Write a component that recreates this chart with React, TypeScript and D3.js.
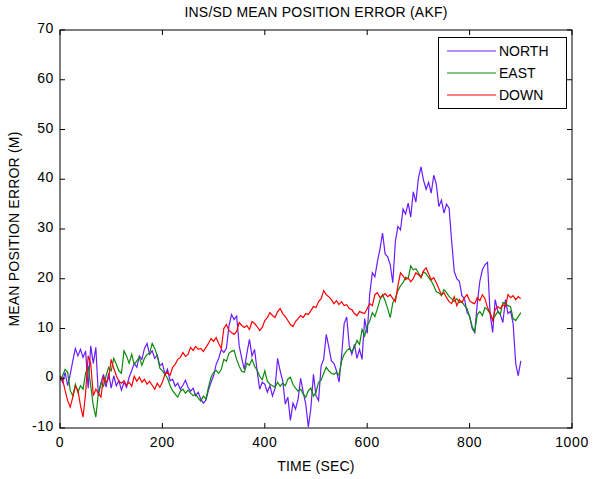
import * as d3 from 'd3';

// sampled every 5 s, 0..900
const TIME = d3.range(0, 901, 5);

const NORTH = [
  0.5, -0.8, 1.2, -1.5, 0.8, 3.5, 6.0, 4.5, 5.8, 4.2,
  5.5, -2.0, 6.5, 3.0, 6.2, -3.5, -1.0, 0.8, -1.8, 1.0,
  -2.0, 0.5, -1.5, -0.5, -2.4, -0.8, -1.8, 0.2, 1.5, 3.0,
  2.2, 4.5, 3.8, 6.0, 7.0, 4.8, 5.5, 4.0, 4.6, 2.5,
  3.0, 0.8, 1.8, -0.5, -0.2, -1.6, -1.0, -2.2, -1.4, -0.4,
  -1.8, -2.6, -2.0, -3.5, -2.8, -4.2, -5.0, -4.4, -2.4, -0.8,
  0.5, 2.8, 4.0, 5.8, 5.2, 6.0, 10.5, 12.8, 11.8, 12.5,
  6.5, 4.0, 1.8, 5.0, 7.8, 4.5, 5.8, 1.5, -2.2, -0.8,
  -1.2, -2.8, -1.5, -3.6, -2.0, 4.0, 1.5, -0.5, -5.2, -3.8,
  -8.5, -5.0, -6.2, -4.2, 0.0, -2.8, -5.2, -9.8, -6.0, 0.8,
  -3.5, -4.5, 2.5, 3.8, 8.8, 6.3, 3.5, 3.0, 1.5, -0.8,
  4.5, 11.0, 12.3, 6.5, 4.8, 6.8, 4.0, 5.8, 3.8, 12.0,
  9.0, 17.0, 21.2, 20.4, 23.5, 26.0, 29.2, 25.0, 24.4, 22.8,
  19.2, 27.5, 30.5, 29.8, 34.0, 33.0, 35.2, 32.4, 37.5, 35.4,
  40.2, 42.5, 39.8, 38.0, 39.4, 37.2, 40.8, 39.0, 34.5, 35.8,
  33.2, 35.0, 34.2, 27.5, 21.5, 20.0, 19.5, 16.6, 16.0, 13.2,
  12.5, 10.0, 9.2, 15.0, 19.5, 21.8, 22.8, 23.3, 13.0, 9.2,
  15.8, 13.5, 12.8, 11.2, 15.8, 13.0, 13.5, 11.0, 3.0, 0.5,
  3.5,
];

const EAST = [
  -0.5, 0.5, 1.8, 1.2, -2.5, -3.5, -1.2, -2.8, -1.5, -2.2,
  1.0, 2.5, -1.5, -5.5, -7.8, -3.0, -1.0, -1.6, 0.5, 2.2,
  1.5, 4.0, 2.8, 1.5, 1.0, 5.5, 4.5, 3.0, 4.8, 2.8,
  3.5, 4.2, 2.6, 4.0, 4.8, 5.0, 7.0, 6.0, 4.5, 2.0,
  1.5, 0.8, 0.0, -1.5, -2.5, -3.2, -3.8, -2.6, -2.2, -3.0,
  -2.4, -3.0, -3.5, -3.2, -4.0, -4.6, -3.6, -4.2, -1.8, 0.2,
  1.2, 1.6, 1.0, 1.8, 3.8, 3.4, 5.0, 5.4, 5.6, 3.8,
  2.4, 1.4, 1.2, 3.0, 2.6, 3.8, 2.4, 1.6, 0.4, -0.3,
  1.5, -0.6, -1.2, -1.5, -1.8, -0.8, -1.6, -1.0, -1.5, -0.2,
  0.2, -1.2, -2.0, -2.6, -2.2, -3.2, -3.8, -2.5, -2.0, -3.6,
  -2.8, -0.8, -0.4, 1.0, 2.2, 1.5, 1.0, 0.8, 1.2, 0.6,
  3.5, 4.8, 5.5, 6.0, 5.4, 6.2, 7.6, 6.8, 9.8, 8.5,
  10.6, 11.5, 13.2, 12.4, 14.0, 15.8, 16.8, 15.6, 14.0, 12.2,
  15.2, 16.0, 17.6, 18.6, 19.2, 20.3, 20.0, 22.6, 21.8, 22.0,
  21.2, 20.2, 21.4, 21.0, 20.2, 19.6, 18.6, 17.4, 17.2, 16.6,
  17.8, 17.2, 16.4, 16.0, 15.4, 16.0, 15.2, 15.4, 14.6, 14.0,
  12.4, 10.4, 9.3, 12.8, 13.4, 12.6, 14.2, 13.8, 13.0, 11.8,
  12.6, 13.4, 12.8, 15.2, 15.0, 14.6, 14.4, 12.0, 11.6, 12.4,
  13.2,
];

const DOWN = [
  0.4, -0.2, -2.5, -4.5, -5.8, -3.8, -1.6, -2.4, -5.5, -7.8,
  -3.0, 4.5, 3.0, -3.5, -2.2, -3.0, -3.8, 0.2, -0.8, 0.0,
  3.8, 2.0, 0.5, -0.6, -1.0, -0.5, -1.4, -0.8, -1.6, 0.4,
  -0.6, 0.2, -0.8, -0.2, -1.2, -0.6, -1.4, -2.2, -1.0, -1.8,
  -0.8, 0.8, 1.2, 0.6, 2.2, 2.8, 3.8, 4.2, 5.2, 4.4,
  4.8, 6.2, 5.6, 6.4, 5.8, 6.0, 5.4, 6.2, 7.0, 8.0,
  7.4, 8.2, 7.0, 6.0, 10.0, 10.8, 9.6, 9.2, 8.8, 9.4,
  11.2, 10.6, 10.2, 10.6, 9.8, 11.4, 11.0, 10.4, 9.6, 10.2,
  11.6, 12.2, 13.2, 12.6, 12.2, 13.4, 14.0, 13.0, 12.4, 11.6,
  10.8, 10.4, 11.4, 12.0, 12.6, 12.2, 13.0, 12.8, 13.6, 14.4,
  14.2, 15.4, 16.0, 17.6, 16.8, 16.4, 15.8, 15.0, 15.6, 14.8,
  15.4, 14.6, 14.8, 14.0, 13.8, 13.0, 12.6, 13.4, 13.2, 13.0,
  14.0, 15.0, 14.6, 16.8, 17.2, 16.2, 16.6, 17.0, 16.4, 16.8,
  16.0, 15.4, 18.6, 21.2, 20.6, 19.8, 20.2, 19.4, 20.0, 21.2,
  20.8, 20.4, 21.6, 22.2, 21.0, 19.8, 20.2, 19.2, 18.0, 16.8,
  17.2, 16.2, 15.4, 15.0, 16.4, 14.6, 15.8, 15.2, 16.2, 16.8,
  15.6, 15.2, 15.0, 16.2, 15.6, 16.8, 16.0, 14.2, 13.2, 11.6,
  13.8, 14.4, 14.0, 14.8, 14.4, 16.8, 16.2, 16.6, 15.8, 16.4,
  16.0,
];

const SERIES = [
  { name: 'NORTH', values: NORTH, color: '#6a1cff' },
  { name: 'EAST', values: EAST, color: '#0a8a0a' },
  { name: 'DOWN', values: DOWN, color: '#ff0000' },
];

const X_TICKS = [0, 200, 400, 600, 800, 1000];
const Y_TICKS = [-10, 0, 10, 20, 30, 40, 50, 60, 70];

const W = 593;
const H = 479;
const margin = { top: 30, right: 21, bottom: 51, left: 60 };
const font = '"Liberation Sans", Arial, sans-serif';

export default function App() {
  const x = d3.scaleLinear().domain([0, 1000]).range([margin.left, W - margin.right]);
  const y = d3.scaleLinear().domain([-10, 70]).range([H - margin.bottom, margin.top]);

  const line = d3.line<number>()
    .x((_, i) => x(TIME[i]))
    .y(d => y(d));

  const x0 = x(0), x1 = x(1000), y0 = y(-10), y1 = y(70);
  const tick = 5;

  return (
    <svg width={W} height={H} style={{ position: 'absolute', left: 0, top: 0, background: '#fff' }}
      fontFamily={font}>
      <g clipPath="url(#plot)">
        <defs>
          <clipPath id="plot">
            <rect x={x0} y={y1} width={x1 - x0} height={y0 - y1} />
          </clipPath>
        </defs>
        {SERIES.map(s => (
          <path key={s.name} d={line(s.values) || ''} fill="none" stroke={s.color} strokeWidth={1.2} />
        ))}
      </g>

      <rect x={x0} y={y1} width={x1 - x0} height={y0 - y1} fill="none" stroke="#000" strokeWidth={1} />

      {X_TICKS.map(t => (
        <g key={'x' + t}>
          <line x1={x(t)} x2={x(t)} y1={y0} y2={y0 - tick} stroke="#000" />
          <line x1={x(t)} x2={x(t)} y1={y1} y2={y1 + tick} stroke="#000" />
          <text x={x(t)} y={y0 + 19} textAnchor="middle" fontSize={14} letterSpacing={0.6}>{t}</text>
        </g>
      ))}
      {Y_TICKS.map(t => (
        <g key={'y' + t}>
          <line x1={x0} x2={x0 + tick} y1={y(t)} y2={y(t)} stroke="#000" />
          <line x1={x1} x2={x1 - tick} y1={y(t)} y2={y(t)} stroke="#000" />
          <text x={x0 - 6} y={y(t) + 3} textAnchor="end" fontSize={14} letterSpacing={0.6}>{t}</text>
        </g>
      ))}

      <text x={(x0 + x1) / 2} y={17} textAnchor="middle" fontSize={14} letterSpacing={0.2}>
        INS/SD MEAN POSITION ERROR (AKF)
      </text>
      <text x={(x0 + x1) / 2} y={471} textAnchor="middle" fontSize={14} letterSpacing={0.2}>
        TIME (SEC)
      </text>
      <text transform={`translate(19,${(y0 + y1) / 2}) rotate(-90)`} textAnchor="middle" fontSize={14}
        letterSpacing={0.2}>
        MEAN POSITION ERROR (M)
      </text>

      <g>
        <rect x={438.5} y={37.5} width={128} height={71} fill="#fff" stroke="#000" />
        {SERIES.map((s, i) => (
          <g key={'l' + s.name}>
            <line x1={447} x2={496} y1={51 + i * 22} y2={51 + i * 22} stroke={s.color} strokeWidth={1} />
            <text x={499} y={56 + i * 22} fontSize={14}>{s.name}</text>
          </g>
        ))}
      </g>
    </svg>
  );
}
